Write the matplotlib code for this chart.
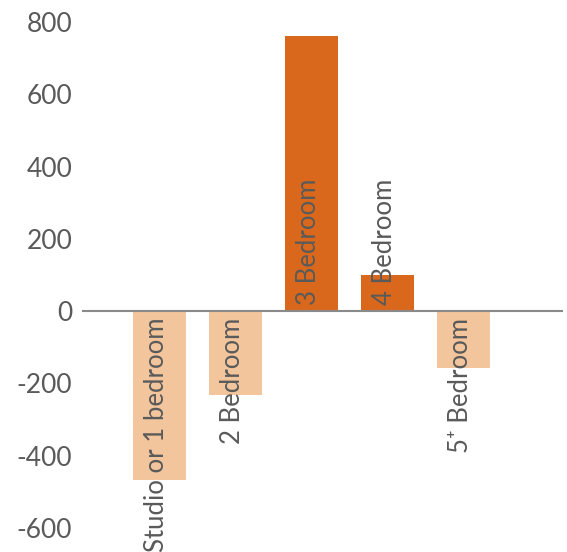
import matplotlib.pyplot as plt

categories = ["Studio or 1 bedroom", "2 Bedroom", "3 Bedroom", "4 Bedroom", "5\u207a Bedroom"]
values = [-468, -232, 760, 100, -158]
yticks = [-600, -400, -200, 0, 200, 400, 600, 800]

dark = "#D9681C"
light = "#F3C59C"

plt.rcParams["font.family"] = ["Lato", "DejaVu Sans"]

fig = plt.figure(figsize=(5.67, 5.52), dpi=100)
ax = fig.add_axes([82 / 567, 0.0112, (563 - 82) / 567, 0.9816])

x = list(range(len(categories)))
colors = [dark if v > 0 else light for v in values]
ax.bar(x, values, width=0.7, color=colors, zorder=2)
ax.axhline(0, color="#8a8a8a", lw=1.5, zorder=3)

# category labels sit along the zero line, rotated
for xi, v, name in zip(x, values, categories):
    if v > 0:
        ax.text(xi - 0.04, 16, name, rotation=90, ha="center", va="bottom",
                fontsize=18.5, color="#5a5a5a", zorder=4)
    else:
        ax.text(xi - 0.04, -19, name, rotation=90, ha="center", va="top",
                fontsize=18.5, color="#5a5a5a", zorder=4)

ax.set_xlim(-1.02, 5.31)
ax.set_ylim(-650, 850)
ax.set_yticks(yticks)
ax.set_yticklabels([str(t) for t in yticks], fontsize=19, color="#5a5a5a")
ax.tick_params(axis="y", length=0, pad=7)
ax.set_xticks([])
for s in ax.spines.values():
    s.set_visible(False)

fig.savefig("out.png", dpi=100)
